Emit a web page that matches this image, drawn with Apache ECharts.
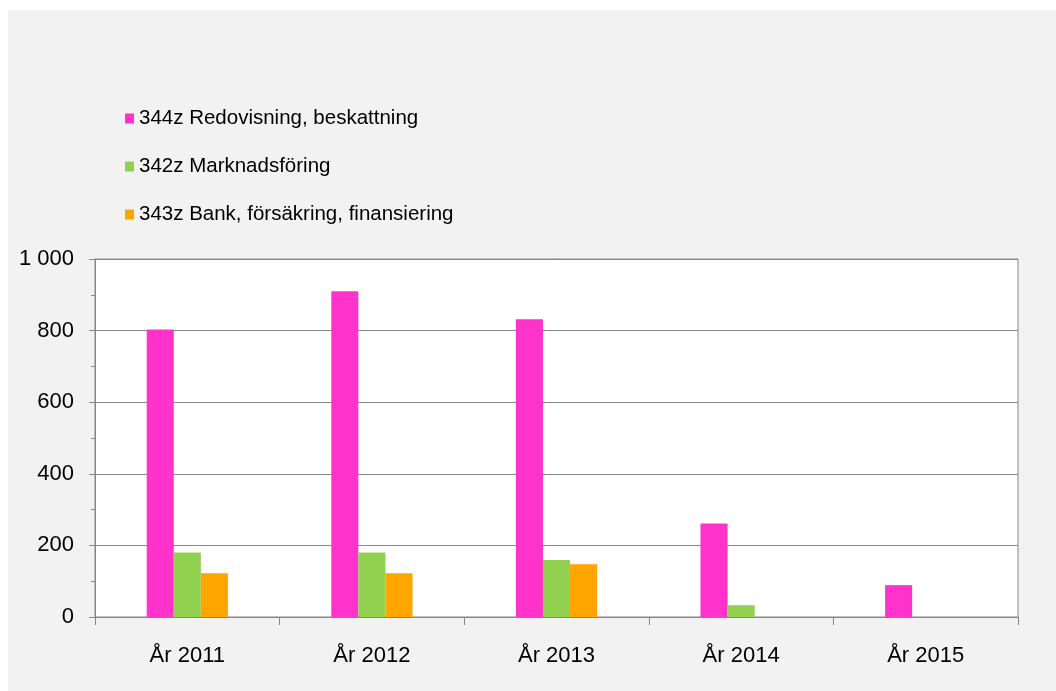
<!DOCTYPE html>
<html>
<head>
<meta charset="utf-8">
<script src="https://cdn.jsdelivr.net/npm/echarts@6/dist/echarts.min.js"></script>
<style>
  html, body { margin: 0; padding: 0; background: #fff; }
  #chart { position: absolute; left: 8px; top: 10px; width: 1048px; height: 681px; }
</style>
</head>
<body>
<div id="chart"></div>
<script>
// kategorier (år)
const years = ['År 2011', 'År 2012', 'År 2013', 'År 2014', 'År 2015'];

// serier
const redovisning = [803, 910, 832, 261, 89];
const marknadsforing = [180, 180, 159, 33, 0];
const bank = [122, 122, 147, 0, 0];

const seriesNames = [
  '344z Redovisning, beskattning',
  '342z Marknadsföring',
  '343z Bank, försäkring, finansiering'
];

const axisGray = '#868686';
const font = 'Liberation Sans, Arial, sans-serif';

const chart = echarts.init(document.getElementById('chart'));

chart.setOption({
  backgroundColor: '#f2f2f2',
  textStyle: { fontFamily: font },
  legend: {
    orient: 'vertical',
    left: 112,
    top: 93,
    itemWidth: 9,
    itemHeight: 10,
    itemGap: 27,
    icon: 'rect',
    textStyle: { fontSize: 20.5, color: '#000', fontFamily: font },
    data: seriesNames
  },
  grid: {
    left: 87,
    right: 38,
    top: 249,
    bottom: 74,
    show: true,
    backgroundColor: '#fff',
    borderColor: axisGray,
    borderWidth: 1
  },
  xAxis: {
    type: 'category',
    data: years,
    axisLine: { lineStyle: { color: axisGray } },
    axisTick: { show: true, length: 8, lineStyle: { color: axisGray } },
    axisLabel: { fontSize: 22, color: '#000', margin: 28, fontFamily: font }
  },
  yAxis: {
    type: 'value',
    min: 0,
    max: 1000,
    interval: 200,
    axisLine: { show: true, lineStyle: { color: axisGray } },
    axisTick: { show: true, length: 6, lineStyle: { color: axisGray } },
    minorTick: { show: true, splitNumber: 2, length: 4, lineStyle: { color: axisGray } },
    splitLine: { lineStyle: { color: axisGray } },
    axisLabel: {
      fontSize: 22,
      color: '#000',
      margin: 21,
      fontFamily: font,
      formatter: v => String(v).replace(/\B(?=(\d{3})+(?!\d))/g, ' ')
    }
  },
  series: [
    { name: seriesNames[0], type: 'bar', data: redovisning, itemStyle: { color: '#ff33cc' }, barGap: '0%', barCategoryGap: '56%' },
    { name: seriesNames[1], type: 'bar', data: marknadsforing, itemStyle: { color: '#92d050' } },
    { name: seriesNames[2], type: 'bar', data: bank, itemStyle: { color: '#ffa500' } }
  ]
});
</script>
</body>
</html>
